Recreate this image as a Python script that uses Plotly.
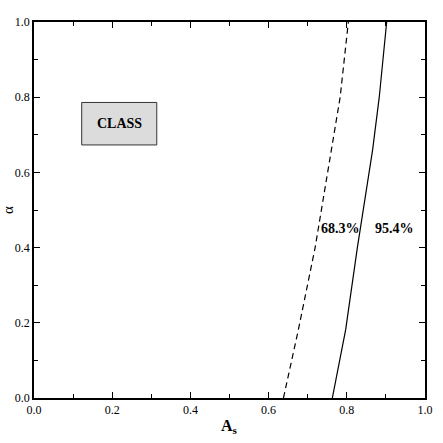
import plotly.graph_objects as go

alpha = [0.0, 0.181, 0.4, 0.66, 0.8, 1.0]
as_68 = [0.638, 0.676, 0.719, 0.760, 0.783, 0.804]
as_95 = [0.763, 0.797, 0.827, 0.866, 0.883, 0.902]

labels = ["68.3%", "95.4%"]
label_x = [0.783, 0.923]
label_y = [0.452, 0.452]

tickvals = [0.0, 0.2, 0.4, 0.6, 0.8, 1.0]
ticktext = ["0.0", "0.2", "0.4", "0.6", "0.8", "1.0"]

font = "Liberation Serif"

fig = go.Figure()
fig.add_trace(go.Scatter(x=as_68, y=alpha, mode="lines", line=dict(color="black", width=1.2, dash="6px,4px")))
fig.add_trace(go.Scatter(x=as_95, y=alpha, mode="lines", line=dict(color="black", width=1.2)))

for t, x, y in zip(labels, label_x, label_y):
    fig.add_annotation(x=x, y=y, text="<b>" + t + "</b>", showarrow=False,
                       font=dict(family=font, size=14, color="black"))

fig.add_shape(type="rect", x0=0.122, x1=0.314, y0=0.673, y1=0.786,
              line=dict(color="#333", width=1), fillcolor="#dcdcdc")
fig.add_annotation(x=0.218, y=0.73, text="<b>CLASS</b>", showarrow=False,
                   font=dict(family=font, size=14, color="black"))

# x-axis title
fig.add_annotation(x=0.5, y=0, xref="paper", yref="paper", yanchor="middle", yshift=-28,
                   text="<b>A<sub>s</sub></b>", showarrow=False,
                   font=dict(family=font, size=16, color="black"))

axis_common = dict(range=[0, 1], tickvals=tickvals, ticktext=ticktext, ticks="inside",
                   ticklen=6, tickwidth=1, tickcolor="black", showline=True, linecolor="black",
                   linewidth=1.5, mirror="ticks", showgrid=False, zeroline=False, automargin=False,
                   tickfont=dict(family=font, size=12, color="black"),
                   minor=dict(tickvals=[0.1, 0.3, 0.5, 0.7, 0.9], ticks="inside", ticklen=4,
                              tickcolor="black", tickwidth=1))

fig.update_xaxes(**axis_common)
fig.update_yaxes(**axis_common, title=dict(text="α", standoff=6,
                 font=dict(family=font, size=15, color="black")))

fig.update_layout(width=443, height=443, margin=dict(l=34, r=18, t=22, b=45),
                  plot_bgcolor="white", paper_bgcolor="white", showlegend=False)

fig.write_html("out.html", config={"displayModeBar": False},
               post_script="document.body.style.margin='0';document.body.style.overflow='hidden';")
